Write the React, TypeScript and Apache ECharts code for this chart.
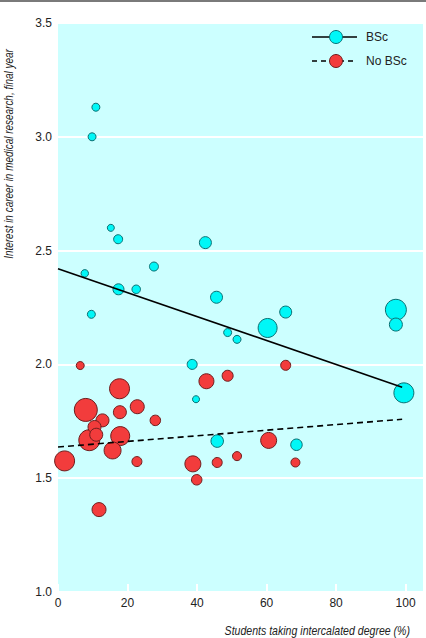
import React, { useEffect, useRef } from "react";
import * as echarts from "echarts";

// BSc group (cyan): x = % students taking intercalated degree, y = interest score, size = bubble diameter
const bscX = [10.9, 9.8, 15.2, 17.3, 42.4, 7.7, 27.6, 17.4, 22.5, 9.6, 45.6, 65.5, 60.3, 48.8, 51.5, 97.2, 97.2, 99.5, 38.6, 39.7, 45.8, 68.6];
const bscY = [3.13, 3.0, 2.6, 2.55, 2.535, 2.4, 2.43, 2.33, 2.33, 2.22, 2.295, 2.23, 2.16, 2.14, 2.11, 2.24, 2.175, 1.875, 2.0, 1.847, 1.663, 1.647];
const bscSize = [8, 8, 7, 9, 12, 7.5, 9, 11, 8.5, 8, 12, 12, 19, 8, 8, 21, 13, 20, 10, 7, 12.5, 11.5];

// No BSc group (red)
const noX = [6.4, 17.7, 8.0, 17.8, 22.8, 12.8, 28.0, 10.5, 11.0, 9.0, 17.9, 15.7, 1.9, 22.7, 11.8, 38.8, 39.9, 42.7, 48.8, 65.5, 60.6, 45.8, 51.5, 68.3];
const noY = [1.995, 1.893, 1.8, 1.79, 1.814, 1.754, 1.754, 1.725, 1.691, 1.667, 1.685, 1.622, 1.576, 1.573, 1.362, 1.563, 1.493, 1.926, 1.95, 1.996, 1.666, 1.569, 1.597, 1.569];
const noSize = [8, 20, 23, 13, 14, 13, 10.5, 13, 13, 21, 19, 17, 20, 10, 14, 16, 10.5, 15, 11, 10, 16, 10, 9, 9];

// Regression lines
const bscFitX = [0, 99];
const bscFitY = [2.42, 1.9];
const noFitX = [0, 99];
const noFitY = [1.637, 1.759];

const xTicks = { min: 0, max: 105, interval: 20 };
const yTicks = { min: 1.0, max: 3.5, interval: 0.5 };

const FONT = "'Liberation Sans Narrow', 'Arial Narrow', 'Liberation Sans', Arial, sans-serif";
const CYAN = "#00f7f7";
const CYAN_STROKE = "#0a6f72";
const RED = "#f23c3c";
const RED_STROKE = "#6e1d1d";

export default function App() {
  const ref = useRef<HTMLDivElement>(null);

  useEffect(() => {
    if (!ref.current) return;
    const chart = echarts.init(ref.current, null, { renderer: "svg" });

    const order = (xs: number[], ys: number[], ss: number[]) =>
      xs
        .map((x, i) => ({ value: [x, ys[i]], s: ss[i] }))
        .sort((a, b) => b.s - a.s)
        .map((d) => ({ value: d.value, symbolSize: d.s }));

    const option: any = {
      animation: false,
      backgroundColor: "#ffffff",
      grid: {
        left: 58,
        right: 3,
        top: 23,
        bottom: 46,
        show: true,
        backgroundColor: "#ccffff",
        borderWidth: 0,
      },
      xAxis: {
        type: "value",
        min: xTicks.min,
        max: xTicks.max,
        interval: xTicks.interval,
        axisLine: { show: false },
        axisTick: { show: true, inside: true, length: 8, lineStyle: { color: "#ffffff", width: 2 } },
        splitLine: { show: false },
        axisLabel: { color: "#222", fontFamily: FONT, fontSize: 12, margin: 5 },
      },
      yAxis: {
        type: "value",
        min: yTicks.min,
        max: yTicks.max,
        interval: yTicks.interval,
        axisLine: { show: false },
        axisTick: { show: false },
        splitLine: { show: true, lineStyle: { color: "#ffffff", width: 2 } },
        axisLabel: {
          color: "#222",
          fontFamily: FONT,
          fontSize: 12,
          margin: 6,
          formatter: (v: number) => v.toFixed(1),
        },
      },
      series: [
        {
          type: "scatter",
          name: "No BSc",
          symbol: "circle",
          data: order(noX, noY, noSize),
          itemStyle: { color: RED, borderColor: RED_STROKE, borderWidth: 1, opacity: 1 },
          z: 2,
        },
        {
          type: "scatter",
          name: "BSc",
          symbol: "circle",
          data: order(bscX, bscY, bscSize),
          itemStyle: { color: CYAN, borderColor: CYAN_STROKE, borderWidth: 1, opacity: 1 },
          z: 2,
        },
        {
          type: "line",
          name: "BSc fit",
          data: bscFitX.map((x, i) => [x, bscFitY[i]]),
          symbol: "none",
          lineStyle: { color: "#000", width: 1.6 },
          z: 3,
        },
        {
          type: "line",
          name: "No BSc fit",
          data: noFitX.map((x, i) => [x, noFitY[i]]),
          symbol: "none",
          lineStyle: { color: "#000", width: 1.6, type: [6, 4] },
          z: 3,
        },
      ],
      graphic: [
        { type: "rect", left: 0, top: 0, shape: { x: 0, y: 0, width: 426, height: 2 }, style: { fill: "#7a7a7a" } },
        // legend
        { type: "line", shape: { x1: 312, y1: 37, x2: 357, y2: 37 }, style: { stroke: "#000", lineWidth: 1.5 }, z: 10 },
        { type: "circle", shape: { cx: 336, cy: 37, r: 6.5 }, style: { fill: CYAN, stroke: CYAN_STROKE, lineWidth: 1 }, z: 11 },
        { type: "text", x: 366, y: 37, style: { text: "BSc", fill: "#222", font: `12px ${FONT}`, align: "left", verticalAlign: "middle" }, z: 11 },
        { type: "line", shape: { x1: 312, y1: 61, x2: 357, y2: 61 }, style: { stroke: "#000", lineWidth: 1.5, lineDash: [5, 4] }, z: 10 },
        { type: "circle", shape: { cx: 336, cy: 61, r: 6.5 }, style: { fill: RED, stroke: RED_STROKE, lineWidth: 1 }, z: 11 },
        { type: "text", x: 366, y: 61, style: { text: "No BSc", fill: "#222", font: `12px ${FONT}`, align: "left", verticalAlign: "middle" }, z: 11 },
        // axis titles
        {
          type: "text",
          x: 9,
          y: 154,
          rotation: Math.PI / 2,
          scaleX: 0.83,
          style: {
            text: "Interest in career in medical research, final year",
            fill: "#222",
            font: `italic 12px ${FONT}`,
            align: "center",
            verticalAlign: "middle",
          },
        },
        {
          type: "text",
          x: 410,
          y: 631,
          scaleX: 0.88,
          style: {
            text: "Students taking intercalated degree (%)",
            fill: "#222",
            font: `italic 12px ${FONT}`,
            align: "right",
            verticalAlign: "middle",
          },
        },
      ],
    };

    chart.setOption(option);
    return () => chart.dispose();
  }, []);

  return (
    <div
      ref={ref}
      style={{ position: "fixed", left: 0, top: 0, width: 426, height: 638 }}
    />
  );
}
